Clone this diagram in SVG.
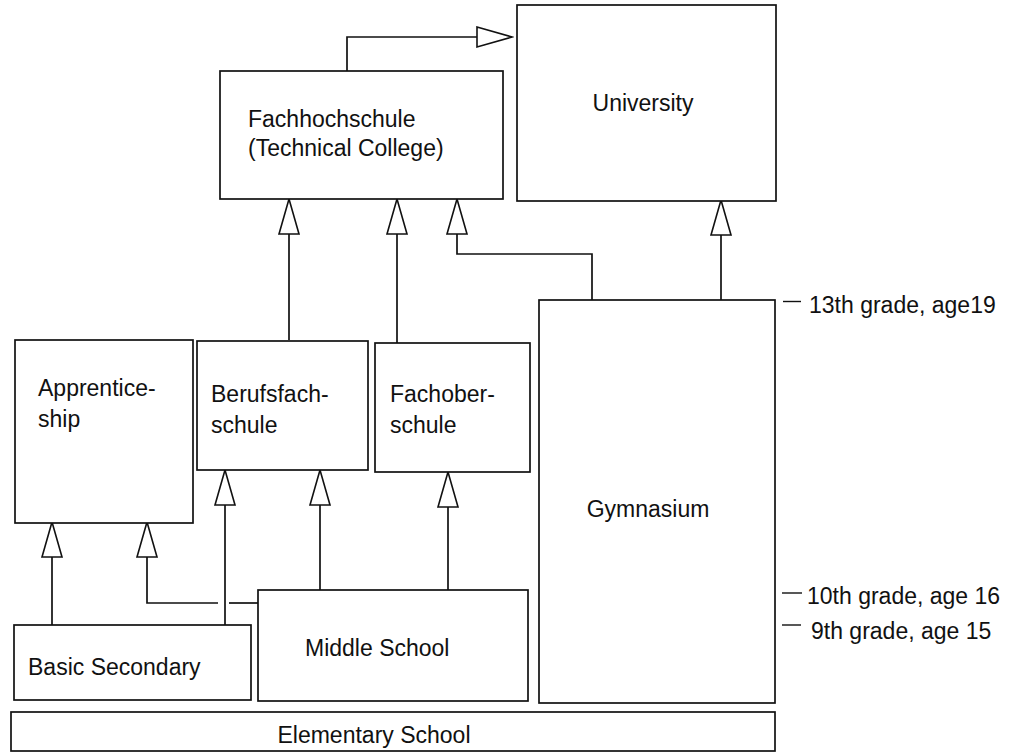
<svg xmlns="http://www.w3.org/2000/svg" width="1009" height="755" viewBox="0 0 1009 755">
<style>
.box{fill:#fff;stroke:#111;stroke-width:1.7}
.t{font-family:"Liberation Sans",Arial,sans-serif;font-size:23px;fill:#111}
.c{fill:none;stroke:#111;stroke-width:1.7}
.tick{stroke:#111;stroke-width:1.4}
</style>
<defs>
<marker id="ah" markerUnits="userSpaceOnUse" markerWidth="38" markerHeight="24" refX="36" refY="11" orient="auto" viewBox="0 0 38 24">
<path d="M1,1 L36,11 L1,21 Z" fill="#fff" stroke="#111" stroke-width="1.6"/>
</marker>
</defs>
<rect width="1009" height="755" fill="#fff"/>
<g id="connectors">
<path class="c" d="M347,71 V37 H512" marker-end="url(#ah)"/>
<path class="c" d="M721,300 V200" marker-end="url(#ah)"/>
<path class="c" d="M592,300 V254 H457 V199" marker-end="url(#ah)"/>
<path class="c" d="M289,340 V199" marker-end="url(#ah)"/>
<path class="c" d="M397,343 V199" marker-end="url(#ah)"/>
<path class="c" d="M52,625 V522" marker-end="url(#ah)"/>
<path class="c" d="M258,603 H229"/>
<path class="c" d="M218,603 H147 V522" marker-end="url(#ah)"/>
<path class="c" d="M225,625 V470" marker-end="url(#ah)"/>
<path class="c" d="M320,590 V470" marker-end="url(#ah)"/>
<path class="c" d="M448,590 V472" marker-end="url(#ah)"/>
</g>
<g id="university">
<rect class="box" x="517" y="5" width="259" height="196"/>
<text class="t" x="643" y="111" text-anchor="middle">University</text>
</g>
<g id="fachhochschule">
<rect class="box" x="220" y="71" width="283" height="128"/>
<text class="t" x="248" y="127">Fachhochschule</text>
<text class="t" x="248" y="156">(Technical College)</text>
</g>
<g id="gymnasium">
<rect class="box" x="539" y="300" width="236" height="403"/>
<text class="t" x="648" y="517" text-anchor="middle">Gymnasium</text>
</g>
<g id="apprenticeship">
<rect class="box" x="15" y="340" width="178" height="183"/>
<text class="t" x="38" y="396">Apprentice-</text>
<text class="t" x="38" y="427">ship</text>
</g>
<g id="berufsfachschule">
<rect class="box" x="197" y="341" width="171" height="129"/>
<text class="t" x="211" y="402">Berufsfach-</text>
<text class="t" x="211" y="433">schule</text>
</g>
<g id="fachoberschule">
<rect class="box" x="375" y="343" width="155" height="129"/>
<text class="t" x="390" y="402">Fachober-</text>
<text class="t" x="390" y="433">schule</text>
</g>
<g id="basic-secondary">
<rect class="box" x="14" y="625" width="237" height="75"/>
<text class="t" x="28" y="675">Basic Secondary</text>
</g>
<g id="middle-school">
<rect class="box" x="258" y="590" width="270" height="111"/>
<text class="t" x="305" y="656">Middle School</text>
</g>
<g id="elementary-school">
<rect class="box" x="11" y="712" width="764" height="39"/>
<text class="t" x="374" y="743" text-anchor="middle">Elementary School</text>
</g>
<g id="grade-labels">
<line class="tick" x1="783" y1="301.5" x2="801" y2="301.5"/>
<text class="t" x="809" y="313">13th grade, age19</text>
<line class="tick" x1="782" y1="593" x2="802" y2="593"/>
<text class="t" x="807" y="604">10th grade, age 16</text>
<line class="tick" x1="782" y1="625" x2="801" y2="625"/>
<text class="t" x="811" y="639">9th grade, age 15</text>
</g>
</svg>
